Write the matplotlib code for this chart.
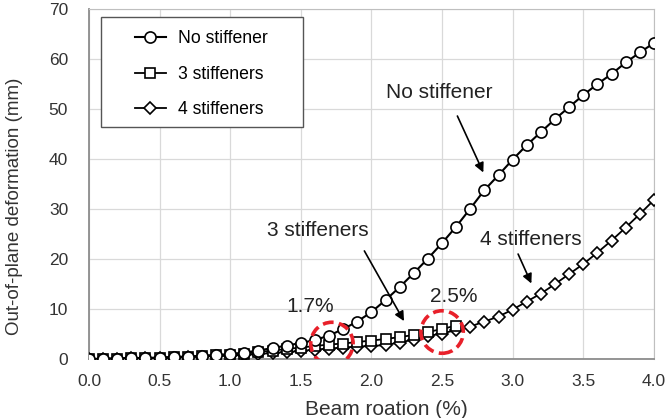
import numpy as np
import matplotlib
matplotlib.use("Agg")
import matplotlib.pyplot as plt
from matplotlib.patches import Ellipse, Rectangle

plt.rcParams['font.family'] = ['Liberation Sans', 'DejaVu Sans']

# beam rotation (%), step 0.1
rot = [round(0.1 * i, 1) for i in range(41)]

no_stiff = [0.0, 0.05, 0.1, 0.15, 0.2, 0.3, 0.4, 0.5, 0.65, 0.8,
            1.0, 1.3, 1.7, 2.2, 2.7, 3.2, 3.8, 4.7, 6.0, 7.5,
            9.4, 11.8, 14.4, 17.2, 20.1, 23.2, 26.5, 30.1, 33.8, 36.8,
            39.9, 42.8, 45.4, 48.0, 50.4, 52.8, 55.0, 57.0, 59.3, 61.3,
            63.2]

rot3 = rot[:27]
stiff3 = [0.0, 0.05, 0.1, 0.15, 0.2, 0.25, 0.35, 0.45, 0.6, 0.75,
          0.9, 1.1, 1.4, 1.7, 2.0, 2.3, 2.6, 2.9, 3.1, 3.4,
          3.7, 4.0, 4.4, 4.8, 5.4, 6.0, 6.7]

stiff4 = [0.0, 0.05, 0.1, 0.15, 0.2, 0.25, 0.3, 0.4, 0.5, 0.6,
          0.7, 0.8, 1.0, 1.2, 1.4, 1.6, 1.9, 2.1, 2.3, 2.5,
          2.6, 2.8, 3.3, 3.9, 4.6, 5.1, 5.8, 6.5, 7.5, 8.5,
          9.9, 11.5, 13.1, 15.0, 17.0, 19.0, 21.3, 23.7, 26.3, 29.0,
          31.8]

fig = plt.figure(figsize=(6.68, 4.18), dpi=100)
ax = fig.add_axes([0.1332, 0.1411, 0.8458, 0.8374])

ax.plot(rot, stiff4, '-', color='black', lw=1.3, marker='D', ms=6.2,
        mfc='white', mec='black', mew=1.2, label='4 stiffeners', zorder=3)
ax.plot(rot3, stiff3, '-', color='black', lw=1.3, marker='s', ms=7.5,
        mfc='white', mec='black', mew=1.2, label='3 stiffeners', zorder=4)
ax.plot(rot, no_stiff, '-', color='black', lw=1.5, marker='o', ms=8,
        mfc='white', mec='black', mew=1.2, label='No stiffener', zorder=5)

# red dashed circles
for cx, cy in [(1.72, 3.1), (2.50, 5.4)]:
    ax.add_patch(Ellipse((cx, cy), 0.30, 8.5, fill=False, edgecolor='#e8202a',
                         lw=2.6, ls=(0, (3, 1.5)), zorder=6))

tc = '#222222'
ax.text(1.565, 10.6, '1.7%', fontsize=15, ha='center', va='center', color=tc)
ax.text(2.58, 12.6, '2.5%', fontsize=15, ha='center', va='center', color=tc)

arrow = dict(arrowstyle='-|>', color='black', lw=1.2, mutation_scale=14)
ax.annotate('', xy=(2.80, 36.8), xytext=(2.60, 49.1), arrowprops=arrow, zorder=7)
ax.annotate('', xy=(2.24, 7.1), xytext=(1.94, 22.1), arrowprops=arrow, zorder=7)
ax.annotate('', xy=(3.14, 14.6), xytext=(3.03, 21.5), arrowprops=arrow, zorder=7)
ax.text(2.48, 53.2, 'No stiffener', fontsize=15, ha='center', va='center', color=tc)
ax.text(1.62, 25.8, '3 stiffeners', fontsize=15, ha='center', va='center', color=tc)
ax.text(3.13, 23.9, '4 stiffeners', fontsize=15, ha='center', va='center', color=tc)

ax.set_xlim(0, 4.0)
ax.set_ylim(0, 70)
xt = np.arange(0, 4.01, 0.5)
ax.set_xticks(xt)
ax.set_xticklabels(['%.1f' % v for v in xt])
ax.set_yticks(range(0, 71, 10))
ax.tick_params(length=0, labelsize=12.5, colors='#333333')
ax.tick_params(axis='x', pad=11)
ax.tick_params(axis='y', pad=15)
ax.grid(True, color='#d9d9d9', lw=0.9)
ax.set_axisbelow(True)
for s in ['top', 'right']:
    ax.spines[s].set_color('#bfbfbf')
for s in ['left', 'bottom']:
    ax.spines[s].set_color('#8c8c8c')
    ax.spines[s].set_linewidth(1.3)

ax.set_xlabel('Beam roation (%)', fontsize=15, color='#333333')
ax.set_ylabel('Out-of-plane deformation (mm)', fontsize=13.5, color='#333333')
ax.xaxis.set_label_coords(0.5265, -0.116)
ax.yaxis.set_label_coords(-0.1168, 0.437)

# legend: entries without frame, frame drawn as a box
h, l = ax.get_legend_handles_labels()
leg = ax.legend(h[::-1], l[::-1], loc='upper left', bbox_to_anchor=(0.0814, 0.939),
                borderaxespad=0, borderpad=0, fontsize=12.7, frameon=False,
                labelspacing=1.05, handlelength=1.76, handletextpad=0.68)
ax.add_patch(Rectangle((0.0212, 0.6637), 0.3575, 0.3143, transform=ax.transAxes,
                       fill=True, facecolor='white', edgecolor='#555555', lw=1.0,
                       zorder=8))
leg.set_zorder(9)

fig.savefig('out.png', dpi=100)
